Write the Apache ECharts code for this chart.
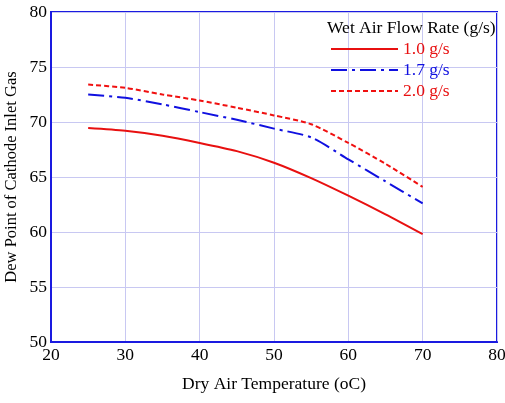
<!DOCTYPE html>
<html>
<head>
<meta charset="utf-8">
<script src="https://cdn.jsdelivr.net/npm/echarts@6/dist/echarts.min.js"></script>
<style>
html, body { margin: 0; padding: 0; background: #fff; }
#ct1 { width: 505px; height: 403px; }
</style>
</head>
<body>
<div id="ct1"></div>
<script>
// dry air temperature (oC)
var temps = [25, 30, 35, 40, 45, 50, 55, 60, 65, 70];
// dew point (oC) per wet air flow rate
var dew10 = [69.45, 69.2, 68.75, 68.1, 67.35, 66.3, 64.9, 63.3, 61.6, 59.8];
var dew17 = [72.5, 72.2, 71.6, 70.9, 70.2, 69.4, 68.6, 66.6, 64.6, 62.6];
var dew20 = [73.4, 73.1, 72.5, 71.95, 71.3, 70.6, 69.8, 68.1, 66.2, 64.1];
var seriesNames = ['1.0 g/s', '1.7 g/s', '2.0 g/s'];

var FONT = '"Liberation Serif", "DejaVu Serif", serif';
var FS = 17.5;
var frameColor = '#1a1ae0';
var gridColor = '#c8c8f2';

function pairs(xs, ys) {
	var out = [];
	for (var i = 0; i < xs.length; i++) {
		out.push([xs[i], ys[i]]);
	}
	return out;
}

var option1 = {
	animation: false,
	backgroundColor: '#fff',
	grid: {
		left: 51, right: 8, top: 12, bottom: 61,
		outerBoundsMode: 'none', containLabel: false,
		show: true, borderColor: frameColor, borderWidth: 2
	},
	title: {
		text: 'Wet Air Flow Rate (g/s)',
		left: 322, top: 14,
		textStyle: { fontFamily: FONT, fontSize: FS, fontWeight: 'normal', color: '#000' }
	},
	legend: {
		orient: 'vertical',
		left: 325, top: 35,
		itemWidth: 67, itemHeight: 14, itemGap: 3,
		itemStyle: { opacity: 0 },
		lineStyle: { width: 2 },
		textStyle: { fontFamily: FONT, fontSize: FS },
		data: [
			{ name: seriesNames[0], textStyle: { color: '#e81010' } },
			{ name: seriesNames[1], textStyle: { color: '#1010e0' } },
			{ name: seriesNames[2], textStyle: { color: '#e81010' } }
		]
	},
	xAxis: {
		type: 'value', min: 20, max: 80, interval: 10,
		name: 'Dry Air Temperature (oC)',
		nameLocation: 'middle', nameGap: 33,
		nameTextStyle: { fontFamily: FONT, fontSize: FS, color: '#000' },
		axisLine: { lineStyle: { color: frameColor, width: 2 } },
		axisTick: { show: false },
		axisLabel: { fontFamily: FONT, fontSize: FS, color: '#000', margin: 4 },
		splitLine: { lineStyle: { color: gridColor, width: 1 } }
	},
	yAxis: {
		type: 'value', min: 50, max: 80, interval: 5,
		name: 'Dew Point of Cathode Inlet Gas',
		nameLocation: 'middle', nameGap: 31, nameMoveOverlap: false,
		nameTextStyle: { fontFamily: FONT, fontSize: 16.5, color: '#000' },
		axisLine: { lineStyle: { color: frameColor, width: 2 } },
		axisTick: { show: false },
		axisLabel: { fontFamily: FONT, fontSize: FS, color: '#000', margin: 4 },
		splitLine: { lineStyle: { color: gridColor, width: 1 } }
	},
	series: [
		{
			name: seriesNames[0], type: 'line', smooth: 0.25, symbol: 'none',
			data: pairs(temps, dew10),
			itemStyle: { color: '#e81010' },
			lineStyle: { color: '#e81010', width: 2, type: 'solid' }
		},
		{
			name: seriesNames[1], type: 'line', smooth: 0.25, symbol: 'none',
			data: pairs(temps, dew17),
			itemStyle: { color: '#1010e0' },
			lineStyle: { color: '#1010e0', width: 2, type: [16, 5, 3, 5] }
		},
		{
			name: seriesNames[2], type: 'line', smooth: 0.25, symbol: 'none',
			data: pairs(temps, dew20),
			itemStyle: { color: '#f01010' },
			lineStyle: { color: '#f01010', width: 2, type: [5, 3] }
		}
	]
};

var myChart1 = echarts.init(document.getElementById('ct1'));
myChart1.setOption(option1, true);
</script>
</body>
</html>
